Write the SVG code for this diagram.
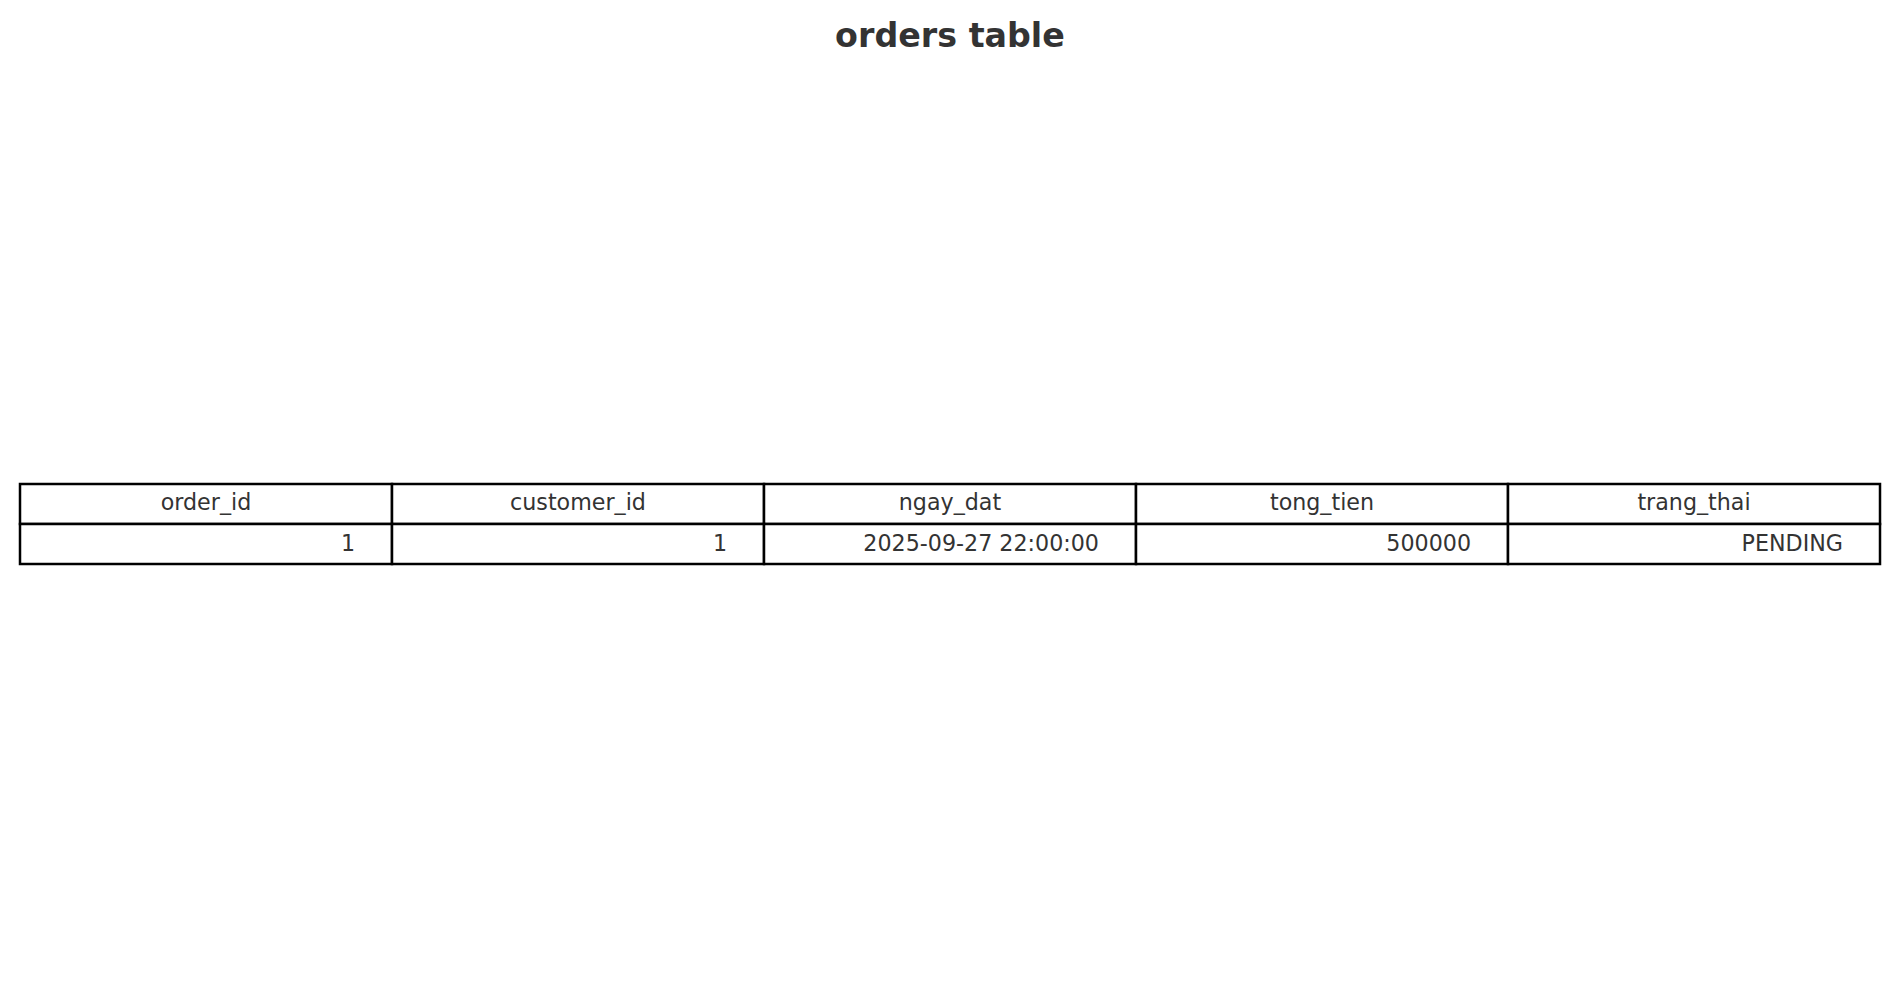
<svg xmlns="http://www.w3.org/2000/svg" width="1900" height="1006" viewBox="0 0 1900 1006">
<style>
.t{font-family:"DejaVu Sans",sans-serif;font-size:22.2px;fill:#333333}
.h{text-anchor:middle}
.v{text-anchor:end}
.title{font-family:"DejaVu Sans",sans-serif;font-size:33.3px;font-weight:bold;fill:#333333;text-anchor:middle}
.cell{fill:#ffffff;stroke:#000000;stroke-width:2.5}
</style>
<rect width="1900" height="1006" fill="#ffffff"/>
<text class="title" x="950" y="46.5">orders table</text>
<g id="table">
<g id="header">
<rect class="cell" x="20" y="484" width="372" height="40"/>
<rect class="cell" x="392" y="484" width="372" height="40"/>
<rect class="cell" x="764" y="484" width="372" height="40"/>
<rect class="cell" x="1136" y="484" width="372" height="40"/>
<rect class="cell" x="1508" y="484" width="372" height="40"/>
<text class="t h" x="206" y="510">order_id</text>
<text class="t h" x="578" y="510">customer_id</text>
<text class="t h" x="950" y="510">ngay_dat</text>
<text class="t h" x="1322" y="510">tong_tien</text>
<text class="t h" x="1694" y="510">trang_thai</text>
</g>
<g id="row1">
<rect class="cell" x="20" y="524" width="372" height="40"/>
<rect class="cell" x="392" y="524" width="372" height="40"/>
<rect class="cell" x="764" y="524" width="372" height="40"/>
<rect class="cell" x="1136" y="524" width="372" height="40"/>
<rect class="cell" x="1508" y="524" width="372" height="40"/>
<text class="t v" x="355" y="551">1</text>
<text class="t v" x="727" y="551">1</text>
<text class="t v" x="1099" y="551">2025-09-27 22:00:00</text>
<text class="t v" x="1471" y="551">500000</text>
<text class="t v" x="1843" y="551">PENDING</text>
</g>
</g>
</svg>
